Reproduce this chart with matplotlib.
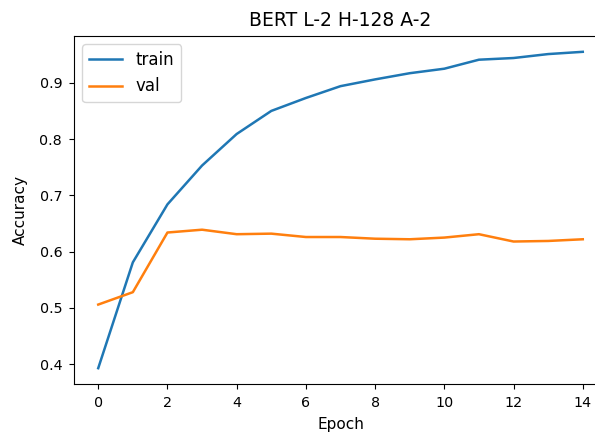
import matplotlib
matplotlib.use("Agg")
import matplotlib.pyplot as plt

epochs = list(range(15))
train_acc = [0.393, 0.581, 0.684, 0.753, 0.809, 0.850, 0.873, 0.894, 0.906,
             0.917, 0.925, 0.941, 0.944, 0.951, 0.955]
val_acc = [0.506, 0.528, 0.634, 0.639, 0.631, 0.632, 0.626, 0.626, 0.623,
           0.622, 0.625, 0.631, 0.618, 0.619, 0.622]

fig = plt.figure(figsize=(5.95, 4.34), dpi=100)
ax = fig.add_axes([74 / 595, 1 - 384 / 434, 533 / 595, 348 / 434])
ax.plot(epochs, train_acc, label="train", linewidth=1.8)
ax.plot(epochs, val_acc, label="val", linewidth=1.8)
ax.set_title("BERT L-2 H-128 A-2", fontsize=13.5, pad=7)
ax.set_xlabel("Epoch", fontsize=11, labelpad=5)
ax.set_ylabel("Accuracy", fontsize=11, labelpad=8)
ax.set_xticks([0, 2, 4, 6, 8, 10, 12, 14])
ax.tick_params(axis="both", labelsize=10.3, pad=5)
ax.legend(loc="upper left", fontsize=12)
fig.savefig("out.png", dpi=100)
